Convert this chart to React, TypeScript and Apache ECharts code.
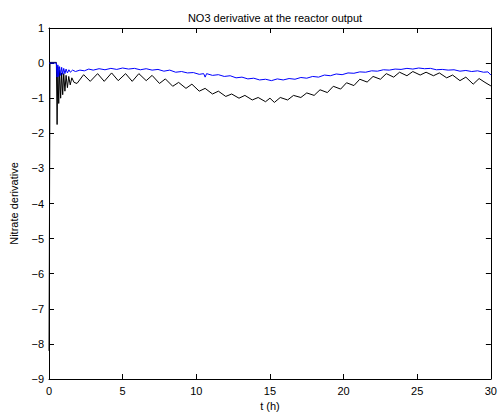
import React, { useEffect, useRef } from "react";
import * as echarts from "echarts";

const TITLE = "NO3 derivative at the reactor output";
const X_NAME = "t (h)";
const Y_NAME = "Nitrate derivative";

// black series: [t (h), value]
const blackSeries: number[][] = [
  [0, -8.2], [0.07, 0.02], [0.5, 0.02], [0.55, -1.75], [0.6, -0.1], [0.66, -1.15], [0.72, -0.2],
  [0.79, -1.0], [0.86, -0.28], [0.93, -0.9], [1.0, -0.3], [1.08, -0.8], [1.16, -0.35], [1.25, -0.7],
  [1.34, -0.38], [1.44, -0.62], [1.55, -0.42], [1.7, -0.55], [1.9, -0.58], [2.35, -0.33], [2.8, -0.52],
  [3.3, -0.3], [3.75, -0.52], [4.25, -0.28], [4.7, -0.5], [5.2, -0.3], [5.65, -0.52], [6.1, -0.3],
  [6.6, -0.5], [7.0, -0.35], [7.5, -0.58], [7.9, -0.45], [8.4, -0.66], [8.8, -0.55], [9.3, -0.72],
  [9.7, -0.6], [10.2, -0.8], [10.6, -0.72], [11.1, -0.88], [11.5, -0.8], [12.0, -0.95], [12.4, -0.88],
  [12.9, -1.0], [13.3, -0.92], [13.8, -1.05], [14.2, -0.98], [14.7, -1.1], [15.0, -1.0], [15.3, -1.12],
  [15.7, -0.98], [16.2, -1.05], [16.6, -0.92], [17.1, -0.98], [17.5, -0.85], [18.0, -0.92], [18.4, -0.76],
  [18.9, -0.84], [19.3, -0.66], [19.8, -0.74], [20.2, -0.56], [20.7, -0.64], [21.1, -0.46], [21.6, -0.54],
  [22.0, -0.38], [22.5, -0.46], [22.9, -0.3], [23.4, -0.4], [23.8, -0.26], [24.3, -0.36], [24.7, -0.24],
  [25.2, -0.34], [25.6, -0.26], [26.1, -0.36], [26.5, -0.28], [27.0, -0.42], [27.4, -0.34], [27.9, -0.5],
  [28.3, -0.4], [28.8, -0.6], [29.2, -0.44], [29.6, -0.55], [30, -0.65],
];

// blue series: [t (h), value]
const blueSeries: number[][] = [
  [0, 0], [0.5, 0.0], [0.55, -0.4], [0.6, -0.05], [0.66, -0.38], [0.72, -0.1], [0.79, -0.35],
  [0.86, -0.12], [0.93, -0.32], [1.0, -0.15], [1.08, -0.3], [1.16, -0.17], [1.25, -0.28], [1.35, -0.19],
  [1.45, -0.26], [1.6, -0.2], [1.8, -0.24], [2.1, -0.2], [2.4, -0.22], [2.7, -0.17], [3.0, -0.2],
  [3.4, -0.16], [3.8, -0.19], [4.2, -0.15], [4.6, -0.18], [5.0, -0.14], [5.4, -0.17], [5.8, -0.15],
  [6.2, -0.19], [6.6, -0.16], [7.0, -0.2], [7.4, -0.18], [7.8, -0.23], [8.2, -0.2], [8.6, -0.26],
  [9.0, -0.24], [9.4, -0.28], [9.8, -0.27], [10.2, -0.32], [10.5, -0.3], [10.6, -0.4], [10.7, -0.3],
  [11.1, -0.35], [11.5, -0.33], [11.9, -0.38], [12.3, -0.36], [12.7, -0.42], [13.1, -0.4], [13.5, -0.45],
  [13.9, -0.43], [14.3, -0.48], [14.7, -0.46], [15.1, -0.5], [15.5, -0.45], [15.9, -0.48], [16.3, -0.44],
  [16.7, -0.46], [17.1, -0.41], [17.5, -0.43], [17.9, -0.38], [18.3, -0.4], [18.7, -0.34], [19.1, -0.36],
  [19.5, -0.31], [19.9, -0.33], [20.3, -0.28], [20.7, -0.29], [21.1, -0.25], [21.5, -0.26], [21.9, -0.22],
  [22.3, -0.23], [22.7, -0.19], [23.1, -0.2], [23.5, -0.17], [23.9, -0.18], [24.3, -0.15], [24.7, -0.17],
  [25.1, -0.14], [25.5, -0.16], [25.9, -0.15], [26.3, -0.19], [26.7, -0.18], [27.1, -0.2], [27.5, -0.19],
  [27.9, -0.23], [28.3, -0.21], [28.7, -0.24], [29.1, -0.22], [29.5, -0.26], [29.8, -0.25], [30, -0.34],
];

const X_MIN = 0, X_MAX = 30, X_STEP = 5;
const Y_MIN = -9, Y_MAX = 1, Y_STEP = 1;

const FONT = "'Liberation Sans', Arial, Helvetica, sans-serif";
const fmt = (v: number) => (v < 0 ? "\u2212" + Math.abs(v) : String(v));

export default function App() {
  const ref = useRef<HTMLDivElement>(null);
  useEffect(() => {
    if (!ref.current) return;
    const chart = echarts.init(ref.current, null, { renderer: "svg" });
    const tick = { show: true, inside: true, length: 5, lineStyle: { color: "#000", width: 1 } };
    const line = { show: true, onZero: false, lineStyle: { color: "#000", width: 1 } };
    chart.setOption({
      animation: false,
      backgroundColor: "#fff",
      title: {
        text: TITLE,
        left: 270,
        textAlign: "center",
        top: 7,
        textStyle: { fontFamily: FONT, fontSize: 11, fontWeight: "normal", color: "#000" },
      },
      grid: { left: 48, right: 7, top: 28, bottom: 39, show: false },
      xAxis: [
        {
          type: "value", min: X_MIN, max: X_MAX, interval: X_STEP, position: "bottom",
          name: X_NAME, nameLocation: "middle", nameGap: 21,
          nameTextStyle: { fontFamily: FONT, fontSize: 11, color: "#000", verticalAlign: "top" },
          axisLine: line, axisTick: tick, splitLine: { show: false },
          axisLabel: { fontFamily: FONT, fontSize: 11, color: "#000", margin: 6, formatter: fmt },
        },
        {
          type: "value", min: X_MIN, max: X_MAX, interval: X_STEP, position: "top",
          axisLine: line, axisTick: tick, splitLine: { show: false }, axisLabel: { show: false },
        },
      ],
      yAxis: [
        {
          type: "value", min: Y_MIN, max: Y_MAX, interval: Y_STEP, position: "left",
          name: Y_NAME, nameLocation: "middle", nameGap: 30, nameRotate: 90,
          nameTextStyle: { fontFamily: FONT, fontSize: 11, color: "#000" },
          axisLine: line, axisTick: tick, splitLine: { show: false },
          axisLabel: { fontFamily: FONT, fontSize: 11, color: "#000", margin: 5, formatter: fmt },
        },
        {
          type: "value", min: Y_MIN, max: Y_MAX, interval: Y_STEP, position: "right",
          axisLine: line, axisTick: tick, splitLine: { show: false }, axisLabel: { show: false },
        },
      ],
      series: [
        {
          type: "line", data: blackSeries, showSymbol: false, symbol: "none",
          lineStyle: { color: "#000", width: 1 }, z: 2,
        },
        {
          type: "line", data: blueSeries, showSymbol: false, symbol: "none",
          lineStyle: { color: "#0000ff", width: 1 }, z: 3,
        },
      ],
    });
    return () => chart.dispose();
  }, []);
  return (
    <div
      ref={ref}
      style={{ position: "fixed", left: 0, top: 0, width: 500, height: 418, background: "#fff" }}
    />
  );
}
